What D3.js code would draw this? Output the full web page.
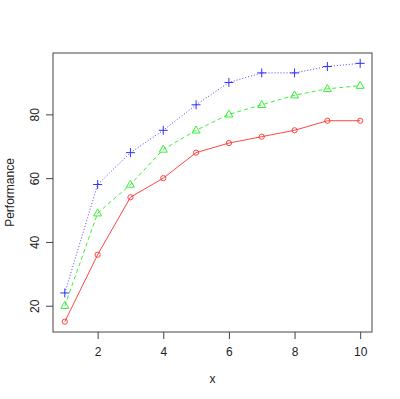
<!DOCTYPE html>
<html>
<head>
<meta charset="utf-8">
<script src="https://cdn.jsdelivr.net/npm/d3@7"></script>
<style>
  body { margin: 0; background: #fff; }
  text { font-family: "Liberation Sans", Arial, sans-serif; fill: #222; }
</style>
</head>
<body>
<script>
// data
var xs = [1, 2, 3, 4, 5, 6, 7, 8, 9, 10];
var redVals = [15, 36, 54, 60, 68, 71, 73, 75, 78, 78];
var greenVals = [20, 49, 58, 69, 75, 80, 83, 86, 88, 89];
var blueVals = [24, 58, 68, 75, 83, 90, 93, 93, 95, 96];
var xTicks = [2, 4, 6, 8, 10];
var yTicks = [20, 40, 60, 80];

var svgWidth = 400, svgHeight = 399;
var box = { left: 53, right: 372, top: 53, bottom: 332 };

var svg = d3.select("body").append("svg")
  .attr("width", svgWidth)
  .attr("height", svgHeight);

// R style 4% padding on each side
var allY = redVals.concat(greenVals, blueVals);
var yMin = d3.min(allY), yMax = d3.max(allY);
var xPad = (d3.max(xs) - d3.min(xs)) * 0.04;
var yPad = (yMax - yMin) * 0.04;

var xScale = d3.scaleLinear()
  .domain([d3.min(xs) - xPad, d3.max(xs) + xPad])
  .range([box.left, box.right]);
var yScale = d3.scaleLinear()
  .domain([yMin - yPad, yMax + yPad])
  .range([box.bottom, box.top]);

// axes
var xAxis = svg.append("g")
  .attr("transform", `translate(0, ${box.bottom})`)
  .call(d3.axisBottom(xScale).tickValues(xTicks).tickSize(7).tickPadding(8).tickSizeOuter(0));
var yAxis = svg.append("g")
  .attr("transform", `translate(${box.left}, 0)`)
  .call(d3.axisLeft(yScale).tickValues(yTicks).tickSize(7).tickSizeOuter(0));

[xAxis, yAxis].forEach(function(a) {
  a.select(".domain").remove();
  a.selectAll("line").attr("stroke", "#444");
  a.selectAll("text").attr("font-size", "12px").style("fill", "#222")
    .attr("font-family", "'Liberation Sans', Arial, sans-serif");
});
// y labels in R are vertical
yAxis.selectAll(".tick text")
  .attr("x", null).attr("dy", null)
  .attr("text-anchor", "middle")
  .attr("transform", "translate(-18, 0) rotate(-90)")
  .attr("dy", "0.35em");

// plot box
svg.append("rect")
  .attr("x", box.left).attr("y", box.top)
  .attr("width", box.right - box.left)
  .attr("height", box.bottom - box.top)
  .attr("fill", "none")
  .attr("stroke", "#444")
  .attr("stroke-width", 1);

// axis titles
svg.append("text")
  .attr("x", (box.left + box.right) / 2)
  .attr("y", 383)
  .attr("text-anchor", "middle")
  .attr("font-size", "12px")
  .text("x");
svg.append("text")
  .attr("transform", `translate(14, ${(box.top + box.bottom) / 2}) rotate(-90)`)
  .attr("text-anchor", "middle")
  .attr("font-size", "12px")
  .text("Performance");

var line = d3.line()
  .x(function(d) { return xScale(d[0]); })
  .y(function(d) { return yScale(d[1]); });

var series = [
  { vals: redVals, color: "#ff3030", dash: null, shape: "circle" },
  { vals: greenVals, color: "#22ee22", dash: "4,3", shape: "triangle" },
  { vals: blueVals, color: "#3030ff", dash: "1,2", shape: "plus" }
];

series.forEach(function(s) {
  var pts = xs.map(function(x, i) { return [x, s.vals[i]]; });
  svg.append("path")
    .datum(pts)
    .attr("d", line)
    .attr("fill", "none")
    .attr("stroke", s.color)
    .attr("stroke-width", 0.9)
    .attr("stroke-dasharray", s.dash);

  var g = svg.append("g");
  pts.forEach(function(p) {
    var cx = xScale(p[0]), cy = yScale(p[1]);
    if (s.shape === "circle") {
      g.append("circle").attr("cx", cx).attr("cy", cy).attr("r", 2.6)
        .attr("fill", "none").attr("stroke", s.color).attr("stroke-width", 0.9);
    } else if (s.shape === "triangle") {
      g.append("path")
        .attr("d", `M${cx},${cy - 4.3}L${cx + 4},${cy + 2.7}L${cx - 4},${cy + 2.7}Z`)
        .attr("fill", "none").attr("stroke", s.color).attr("stroke-width", 0.9);
    } else {
      g.append("path")
        .attr("d", `M${cx - 4.5},${cy}H${cx + 4.5}M${cx},${cy - 4.5}V${cy + 4.5}`)
        .attr("fill", "none").attr("stroke", s.color).attr("stroke-width", 1);
    }
  });
});
</script>
</body>
</html>
